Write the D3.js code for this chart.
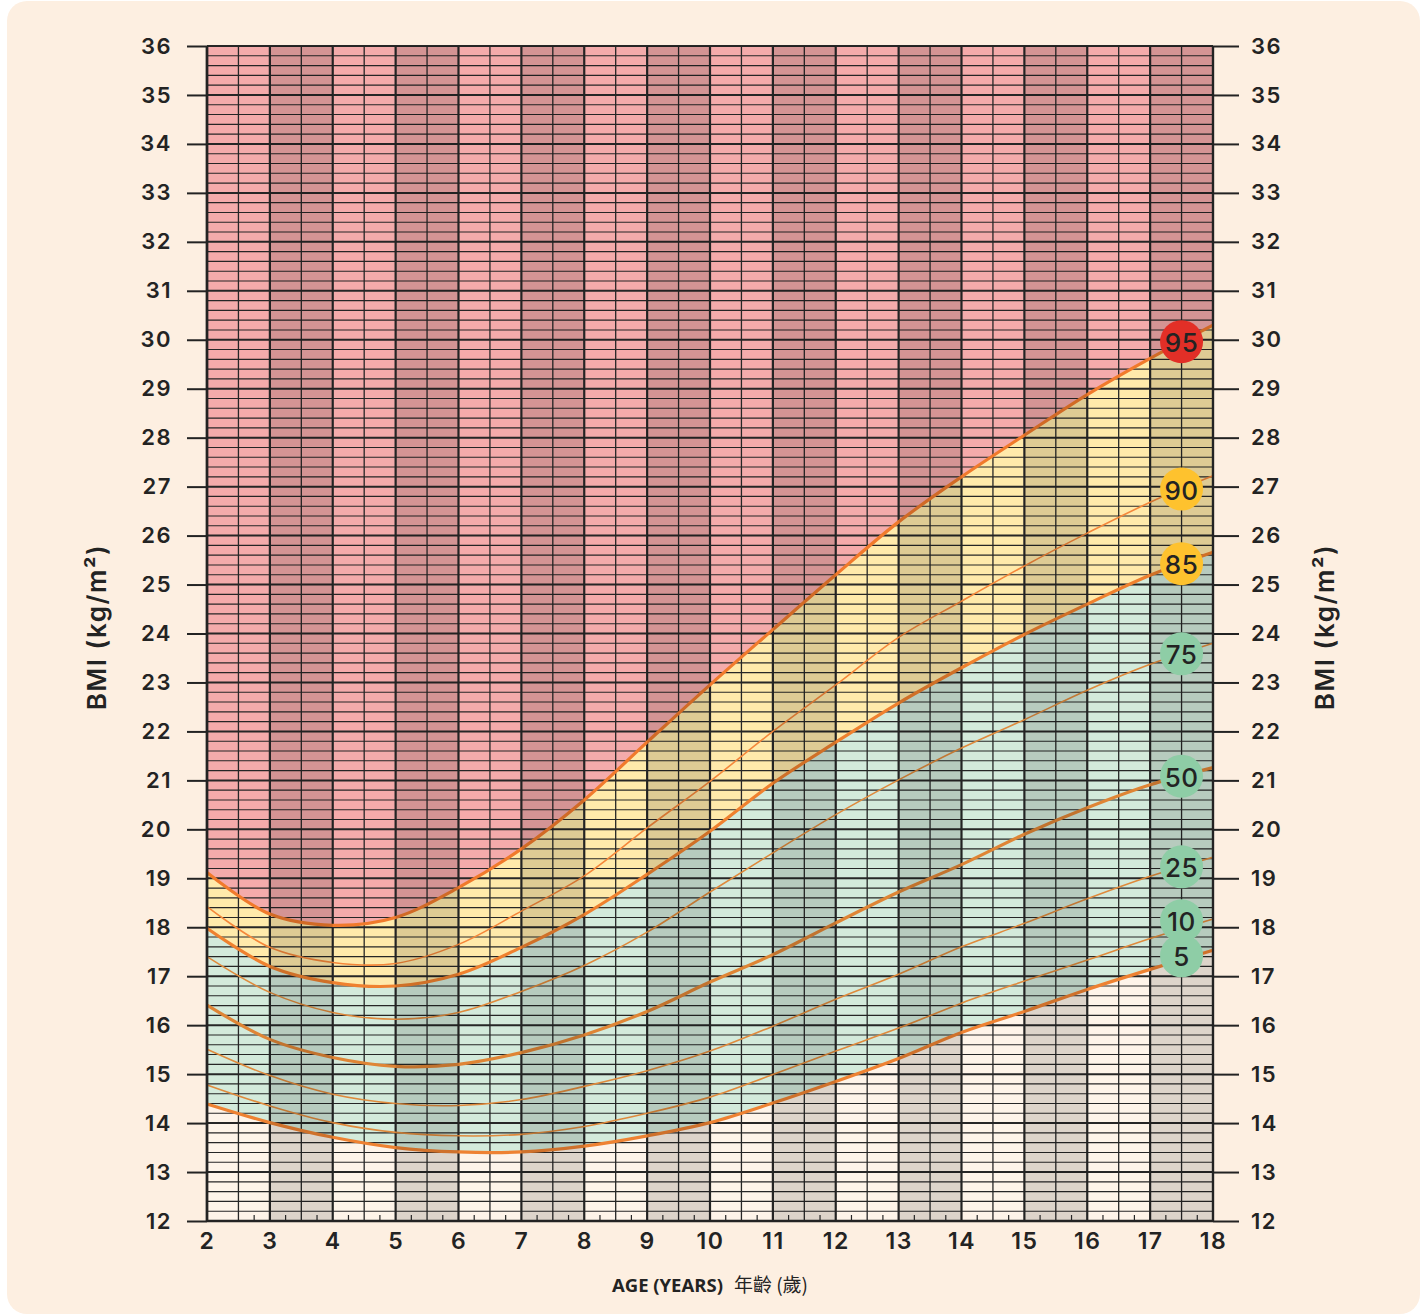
<!DOCTYPE html>
<html>
<head>
<meta charset="utf-8">
<script src="https://cdn.jsdelivr.net/npm/d3@7"></script>
<style>
  html, body { margin: 0; padding: 0; background: #ffffff; }
  svg { display: block; }
</style>
</head>
<body>
<svg id="chart" width="1427" height="1316"></svg>
<script>
// ---------------- DATA ----------------
const ages = [2, 3, 4, 5, 6, 7, 8, 9, 10, 11, 12, 13, 14, 15, 16, 17, 18];
const p95 = [19.12, 18.27, 18.04, 18.20, 18.81, 19.60, 20.60, 21.78, 22.95, 24.08, 25.20, 26.28, 27.20, 28.05, 28.88, 29.62, 30.30];
const p90 = [18.42, 17.59, 17.28, 17.26, 17.65, 18.33, 19.05, 20.03, 20.98, 22.00, 22.95, 23.92, 24.66, 25.38, 26.05, 26.68, 27.22];
const p85 = [17.98, 17.20, 16.87, 16.80, 17.04, 17.59, 18.26, 19.08, 19.96, 20.94, 21.78, 22.58, 23.30, 23.98, 24.60, 25.19, 25.66];
const p75 = [17.40, 16.67, 16.26, 16.12, 16.26, 16.69, 17.22, 17.90, 18.72, 19.52, 20.30, 21.01, 21.66, 22.24, 22.84, 23.37, 23.80];
const p50 = [16.41, 15.71, 15.34, 15.16, 15.20, 15.44, 15.80, 16.28, 16.88, 17.44, 18.09, 18.72, 19.28, 19.90, 20.44, 20.91, 21.26];
const p25 = [15.51, 14.97, 14.59, 14.40, 14.36, 14.48, 14.75, 15.07, 15.47, 15.98, 16.53, 17.04, 17.60, 18.08, 18.58, 19.04, 19.43];
const p10 = [14.78, 14.35, 14.01, 13.81, 13.74, 13.77, 13.93, 14.20, 14.53, 14.99, 15.47, 15.94, 16.45, 16.90, 17.33, 17.77, 18.17];
const p5  = [14.39, 14.01, 13.71, 13.50, 13.41, 13.41, 13.53, 13.74, 14.01, 14.41, 14.85, 15.32, 15.85, 16.28, 16.73, 17.14, 17.53];

const percentileLabels = ["95", "90", "85", "75", "50", "25", "10", "5"];
const bmiTicks = d3.range(12, 37, 1);          // 12 .. 36
const ageTicks = d3.range(2, 19, 1);           // 2 .. 18
const axisTitleBMI = "BMI (kg/m²)";
const axisTitleAgeEn = "AGE (YEARS)";
const axisTitleAgeZh = "年齡 (歲)";

// ---------------- LAYOUT / STYLE ----------------
const plot = { left: 207, right: 1213, top: 46, bottom: 1221 };
const FONT = "Inter, 'Noto Sans', 'DejaVu Sans', sans-serif";
const INK = "#232323";

const x = d3.scaleLinear().domain([2, 18]).range([plot.left, plot.right]);
const y = d3.scaleLinear().domain([12, 36]).range([plot.bottom, plot.top]);

const seriesValues = { "95": p95, "90": p90, "85": p85, "75": p75, "50": p50, "25": p25, "10": p10, "5": p5 };
const lineStyle = {
  "95": { color: "#f17a2c", width: 3.2 },
  "90": { color: "#f5873a", width: 1.6 },
  "85": { color: "#ef812f", width: 3.2 },
  "75": { color: "#df8a3c", width: 1.6 },
  "50": { color: "#df8535", width: 3.2 },
  "25": { color: "#df8a3c", width: 1.6 },
  "10": { color: "#df8a3c", width: 1.6 },
  "5":  { color: "#ee8232", width: 3.2 }
};
const badgeFill = { "95": "#e22f27", "90": "#fec22e", "85": "#fec22e", "75": "#8ecda6", "50": "#8ecda6", "25": "#8ecda6", "10": "#8ecda6", "5": "#8ecda6" };

const svg = d3.select("#chart");

// card background
svg.append("rect")
  .attr("x", 7).attr("y", 1).attr("width", 1413).attr("height", 1313)
  .attr("rx", 20).attr("fill", "#fdefe1");

const curve = d3.curveCatmullRom.alpha(0.5);
const pts = arr => arr.map((v, i) => [ages[i], v]);

// ---------------- ZONES ----------------
const zones = [
  { upper: null, lower: p95, fill: "#f4abab" },
  { upper: p95, lower: p85, fill: "#ffeaab" },
  { upper: p85, lower: p5,  fill: "#d3eadb" },
  { upper: p5,  lower: null, fill: "#fef4e9" }
];
const gZones = svg.append("g");
zones.forEach(z => {
  const area = d3.area()
    .x((d, i) => x(ages[i]))
    .y1((d, i) => z.upper ? y(z.upper[i]) : y(36))
    .y0((d, i) => z.lower ? y(z.lower[i]) : y(12))
    .curve(curve);
  gZones.append("path").attr("d", area(ages)).attr("fill", z.fill);
});

// ---------------- GRID ----------------
const gGrid = svg.append("g");
d3.range(0, 121).forEach(k => {
  const v = 12 + k * 0.2;
  const major = k % 5 === 0;
  gGrid.append("line")
    .attr("x1", plot.left).attr("x2", plot.right)
    .attr("y1", y(v)).attr("y2", y(v))
    .attr("stroke", "#262626")
    .attr("stroke-width", major ? 2 : 1.1);
});
d3.range(0, 33).forEach(k => {
  const a = 2 + k * 0.5;
  const major = k % 2 === 0;
  gGrid.append("line")
    .attr("x1", x(a)).attr("x2", x(a))
    .attr("y1", plot.top).attr("y2", plot.bottom)
    .attr("stroke", "#262626")
    .attr("stroke-width", major ? 2.2 : 1.3);
});

// ---------------- CURVES ----------------
const gLines = svg.append("g");
const line = d3.line().x(d => x(d[0])).y(d => y(d[1])).curve(curve);
percentileLabels.forEach(p => {
  gLines.append("path")
    .attr("d", line(pts(seriesValues[p])))
    .attr("fill", "none")
    .attr("stroke", lineStyle[p].color)
    .attr("stroke-width", lineStyle[p].width);
});

// ---------------- DARK COLUMN OVERLAY ----------------
const gOverlay = svg.append("g");
ageTicks.filter(a => a % 2 === 1 && a < 18).forEach(a => {
  gOverlay.append("rect")
    .attr("x", x(a)).attr("y", plot.top)
    .attr("width", x(a + 1) - x(a)).attr("height", plot.bottom - plot.top)
    .attr("fill", "#000").attr("opacity", 0.13);
});

// quarter ticks at the bottom
d3.range(2.75, 18, 0.5).forEach(a => {
  svg.append("line")
    .attr("x1", x(a)).attr("x2", x(a))
    .attr("y1", plot.bottom - 6).attr("y2", plot.bottom)
    .attr("stroke", "#262626").attr("stroke-width", 1.2);
});

// frame edges
svg.append("line").attr("x1", plot.left).attr("x2", plot.left).attr("y1", plot.top).attr("y2", plot.bottom)
  .attr("stroke", INK).attr("stroke-width", 2.6);
svg.append("line").attr("x1", plot.right).attr("x2", plot.right).attr("y1", plot.top).attr("y2", plot.bottom)
  .attr("stroke", INK).attr("stroke-width", 2.2);
svg.append("line").attr("x1", plot.left).attr("x2", plot.right).attr("y1", plot.bottom).attr("y2", plot.bottom)
  .attr("stroke", INK).attr("stroke-width", 2.4);

// ---------------- AXES ----------------
const leftAxis = d3.axisLeft(y).tickValues(bmiTicks).tickSize(20).tickPadding(15).tickFormat(d3.format("d"));
const rightAxis = d3.axisRight(y).tickValues(bmiTicks).tickSize(26).tickPadding(12).tickFormat(d3.format("d"));
const bottomAxis = d3.axisBottom(x).tickValues(ageTicks).tickSize(0).tickPadding(12).tickFormat(d3.format("d"));

function styleAxis(g, size) {
  g.select(".domain").remove();
  g.selectAll(".tick line").attr("stroke", INK).attr("stroke-width", 2);
  g.selectAll(".tick text")
    .attr("fill", INK)
    .style("font-family", FONT)
    .style("font-size", size + "px")
    .style("font-weight", 600)
    .style("letter-spacing", "1.5px");
}
svg.append("g").attr("transform", `translate(${plot.left},0)`).call(leftAxis).call(g => styleAxis(g, 22));
svg.append("g").attr("transform", `translate(${plot.right},0)`).call(rightAxis).call(g => styleAxis(g, 22));
svg.append("g").attr("transform", `translate(0,${plot.bottom})`).call(bottomAxis).call(g => styleAxis(g, 23));

// axis titles
[99, 1327].forEach(cx => {
  svg.append("text")
    .attr("transform", `translate(${cx},627) rotate(-90)`)
    .attr("text-anchor", "middle")
    .attr("dominant-baseline", "middle")
    .attr("fill", INK)
    .style("font-family", FONT)
    .style("font-size", "26px")
    .style("font-weight", 600)
    .style("letter-spacing", "1.5px")
    .text(axisTitleBMI);
});

const ageTitle = svg.append("text")
  .attr("x", 710).attr("y", 1292)
  .attr("text-anchor", "middle")
  .attr("fill", INK);
ageTitle.append("tspan")
  .style("font-family", "'Open Sans', 'Noto Sans', sans-serif")
  .style("font-size", "18.5px").style("font-weight", 700)
  .text(axisTitleAgeEn);
ageTitle.append("tspan")
  .attr("dx", 11)
  .style("font-family", "'Noto Sans CJK TC', 'Noto Sans', sans-serif")
  .style("font-size", "19px").style("font-weight", 400)
  .text(axisTitleAgeZh);

// ---------------- BADGES ----------------
const badgeAge = 17.5;
const interp = arr => {
  const i = ages.indexOf(Math.floor(badgeAge));
  const t = badgeAge - ages[i];
  return arr[i] + (arr[i + 1] - arr[i]) * t;
};
let badges = percentileLabels.map(p => ({ p, cy: y(interp(seriesValues[p])) }));
badges.sort((a, b) => b.cy - a.cy);
const minGap = 35;
badges[0].cy -= 4;
for (let i = 1; i < badges.length; i++) {
  if (badges[i - 1].cy - badges[i].cy < minGap) badges[i].cy = badges[i - 1].cy - minGap;
}
const gBadges = svg.append("g");
badges.forEach(b => {
  gBadges.append("circle")
    .attr("cx", x(badgeAge)).attr("cy", b.cy).attr("r", 21.5)
    .attr("fill", badgeFill[b.p]);
  gBadges.append("text")
    .attr("x", x(badgeAge)).attr("y", b.cy + 1)
    .attr("text-anchor", "middle").attr("dominant-baseline", "central")
    .attr("fill", INK)
    .style("font-family", FONT).style("font-size", "26px").style("font-weight", 500)
    .style("letter-spacing", "0.5px")
    .text(b.p);
});
</script>
</body>
</html>
